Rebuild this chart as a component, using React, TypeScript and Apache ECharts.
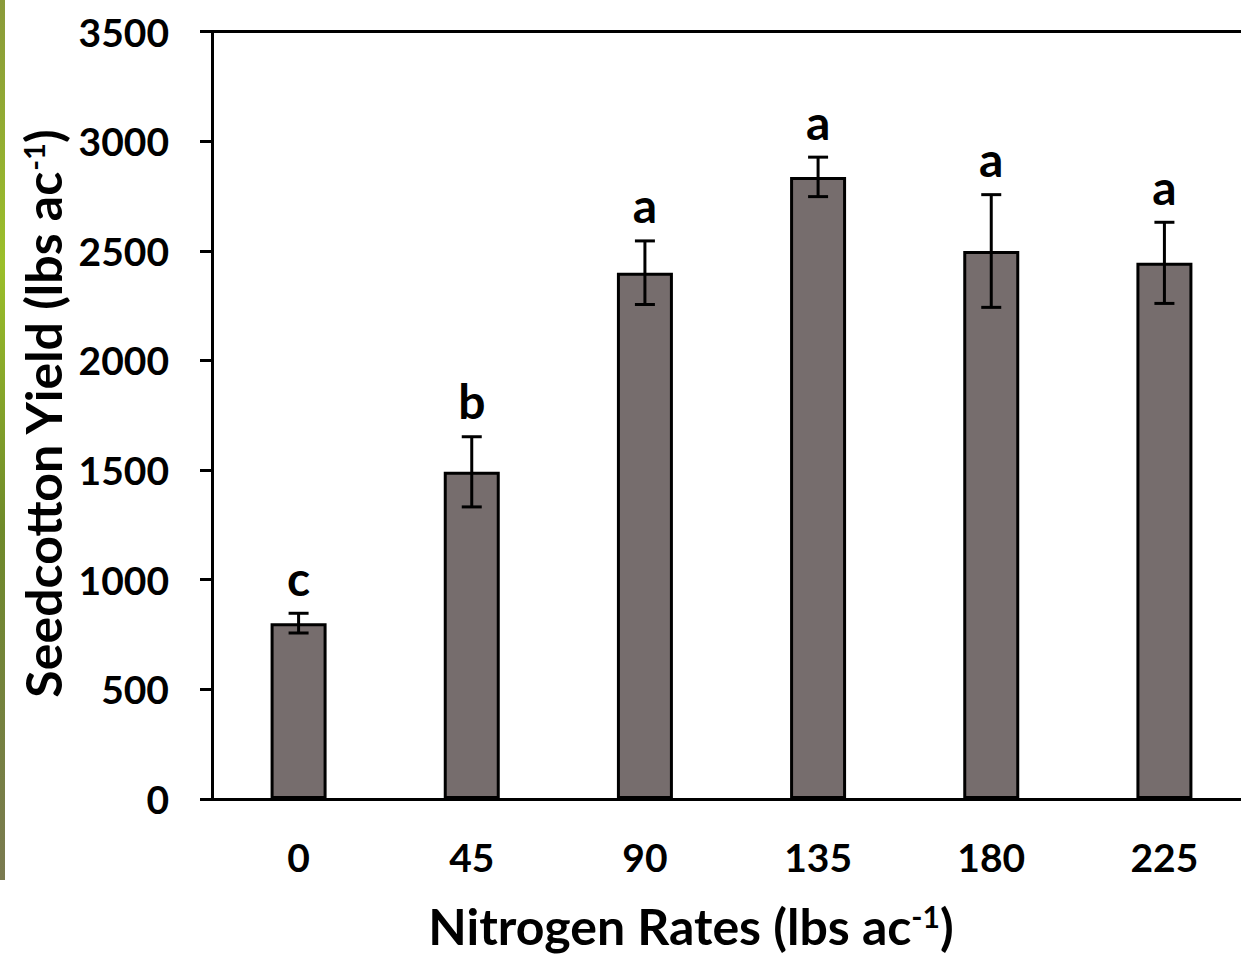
import React, { useEffect, useRef } from "react";
import * as echarts from "echarts";

const categories = ["0", "45", "90", "135", "180", "225"];
const yieldMeans = [802, 1492, 2400, 2837, 2499, 2445];
const yieldErrors = [45, 160, 145, 90, 257, 185];
const groupLetters = ["c", "b", "a", "a", "a", "a"];
const yTicks = { min: 0, max: 3500, interval: 500 };

const FONT = "Lato";

export default function App() {
  const ref = useRef<HTMLDivElement>(null);
  useEffect(() => {
    document.body.style.margin = "0";
    document.body.style.overflow = "hidden";
    const chart = echarts.init(ref.current!, null, { renderer: "svg" });
    const errData = categories.map((c, i) => [i, yieldMeans[i], yieldErrors[i]]);
    chart.setOption({
      animation: false,
      backgroundColor: "#ffffff",
      grid: { left: 212, right: 0, top: 31.5, bottom: 156, containLabel: false },
      xAxis: [
        {
          type: "category",
          data: categories,
          boundaryGap: true,
          axisLine: { show: true, lineStyle: { color: "#000", width: 3 } },
          axisTick: { show: false },
          axisLabel: {
            color: "#000",
            fontFamily: FONT,
            fontWeight: "bold",
            fontSize: 39,
            margin: 38,
          },
          splitLine: { show: false },
        },
        {
          type: "category",
          data: categories,
          position: "top",
          axisLine: { show: true, lineStyle: { color: "#000", width: 3 } },
          axisTick: { show: false },
          axisLabel: { show: false },
          splitLine: { show: false },
        },
      ],
      yAxis: {
        type: "value",
        min: yTicks.min,
        max: yTicks.max,
        interval: yTicks.interval,
        axisLine: { show: true, lineStyle: { color: "#000", width: 3 } },
        axisTick: { show: true, inside: false, length: 12, lineStyle: { color: "#000", width: 3 } },
        axisLabel: {
          color: "#000",
          fontFamily: FONT,
          fontWeight: "bold",
          fontSize: 39,
          margin: 43,
          formatter: (v: number) => String(v),
        },
        splitLine: { show: false },
      },
      series: [
        {
          type: "bar",
          data: yieldMeans,
          barWidth: 56,
          itemStyle: { color: "#766d6d", borderColor: "#000", borderWidth: 3 },
        },
        {
          type: "custom",
          data: errData,
          z: 10,
          renderItem: (params: any, api: any) => {
            const i = api.value(0);
            const m = api.value(1);
            const e = api.value(2);
            const top = api.coord([i, m + e]);
            const bot = api.coord([i, m - e]);
            const x = top[0];
            const cap = 10;
            const ls = { stroke: "#000", lineWidth: 3 };
            return {
              type: "group",
              children: [
                { type: "line", shape: { x1: x, y1: top[1], x2: x, y2: bot[1] }, style: ls },
                { type: "line", shape: { x1: x - cap, y1: top[1], x2: x + cap, y2: top[1] }, style: ls },
                { type: "line", shape: { x1: x - cap, y1: bot[1], x2: x + cap, y2: bot[1] }, style: ls },
                {
                  type: "text",
                  x: x,
                  y: top[1] - 12,
                  style: {
                    text: groupLetters[params.dataIndex],
                    fontFamily: FONT,
                    fontWeight: "bold",
                    fontSize: 48,
                    fill: "#000",
                    align: "center",
                    verticalAlign: "bottom",
                  },
                },
              ],
            };
          },
        },
      ],
      graphic: [
        {
          type: "rect",
          shape: { x: 0, y: 0, width: 5, height: 880 },
          style: {
            fill: new echarts.graphic.LinearGradient(0, 0, 0, 1, [
              { offset: 0, color: "#8a9a3a" },
              { offset: 0.3, color: "#9bbf2a" },
              { offset: 0.6, color: "#6f8a2a" },
              { offset: 1, color: "#7a7a50" },
            ]),
          },
        },
        {
          type: "text",
          x: 43,
          y: 414,
          rotation: Math.PI / 2,
          style: {
            text: "{t|Seedcotton Yield (lbs ac}{s|-1}{t|)}",
            align: "center",
            verticalAlign: "middle",
            rich: {
              t: { fontFamily: FONT, fontWeight: "bold", fontSize: 50, lineHeight: 52, fill: "#000" },
              s: { fontFamily: FONT, fontWeight: "bold", fontSize: 29, lineHeight: 30, fill: "#000", padding: [0, 0, 20, 0] },
            },
          },
        },
        {
          type: "text",
          x: 691,
          y: 926,
          style: {
            text: "{t|Nitrogen Rates (lbs ac}{s|-1}{t|)}",
            align: "center",
            verticalAlign: "middle",
            rich: {
              t: { fontFamily: FONT, fontWeight: "bold", fontSize: 50, lineHeight: 52, fill: "#000" },
              s: { fontFamily: FONT, fontWeight: "bold", fontSize: 30, lineHeight: 30, fill: "#000", padding: [0, 0, 20, 0] },
            },
          },
        },
      ],
    });
    return () => chart.dispose();
  }, []);
  return <div ref={ref} style={{ width: 1251, height: 955 }} />;
}
